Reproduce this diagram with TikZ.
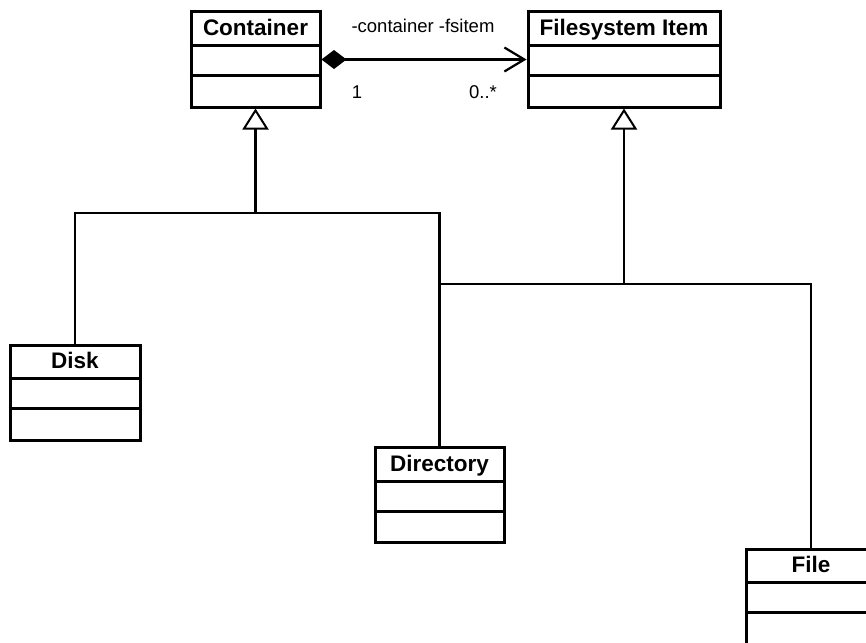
\documentclass[tikz,border=0pt]{standalone}
\usepackage{fontspec}
\setmainfont{Liberation Sans}
\usetikzlibrary{arrows.meta}
\begin{document}
\begin{tikzpicture}[x=1pt,y=-1pt,
  classbox/.style={draw, line width=3pt, inner sep=0pt, minimum height=95pt, minimum width=#1},
  classname/.style={font=\fontsize{22.5}{27}\selectfont\bfseries, inner sep=0pt, anchor=base},
  divider/.style={line width=3pt},
  conn/.style={line width=2.2pt},
  gen/.style={conn, -{Triangle[fill=white, length=21pt, width=26pt, line width=2pt]}},
  assoc/.style={conn, {Diamond[length=25pt, width=19pt]}-{Straight Barb[length=20pt, width=24pt, line width=2.2pt]}},
  lbl/.style={font=\fontsize{18.5}{22}\selectfont, inner sep=0pt, anchor=base}
]
\clip (0,0) rectangle (866,642);
\fill[white] (0,0) rectangle (866,642);

% class boxes
\node[classbox=129pt] (container) at (255.5,59.5) {};
\node[classbox=192pt] (fsitem)    at (624,59.5)   {};
\node[classbox=130pt] (disk)      at (75,392.5)   {};
\node[classbox=129pt] (directory) at (439.5,495)  {};
\node[classbox=130pt] (file)      at (811,596.5)  {};

% compartments
\foreach \c in {container, fsitem, disk, directory, file} {
  \draw[divider] ([yshift=-35pt]\c.north west) -- ([yshift=-35pt]\c.north east);
  \draw[divider] ([yshift=-65pt]\c.north west) -- ([yshift=-65pt]\c.north east);
}

% class names, set on a common baseline below each top edge
\node[classname] (containername) at ([yshift=-25pt]container.north) {Container};
\node[classname] (fsitemname)    at ([yshift=-25pt]fsitem.north)    {Filesystem Item};
\node[classname] (diskname)      at ([yshift=-25pt]disk.north)      {Disk};
\node[classname] (directoryname) at ([yshift=-25pt]directory.north) {Directory};
\node[classname] (filename)      at ([yshift=-25pt]file.north)      {File};

% composition
\draw[assoc] (container.east) -- (fsitem.west);
\node[lbl] (roles) at (423,33) {-container -fsitem};
\node[lbl] (multone) at (357,98) {1};
\node[lbl] (multmany) at (483,98) {0..*};

% generalisation trees
\coordinate (cjoin) at (255.5,213);
\coordinate (fjoin) at (624,284);
\draw[conn] (disk.north) |- (directory.north |- cjoin) -- (directory.north);
\draw[gen] (cjoin) -- (container.south);
\draw[conn] (directory.north |- fjoin) -| (file.north);
\draw[gen] (fjoin) -- (fsitem.south);
\end{tikzpicture}
\end{document}
